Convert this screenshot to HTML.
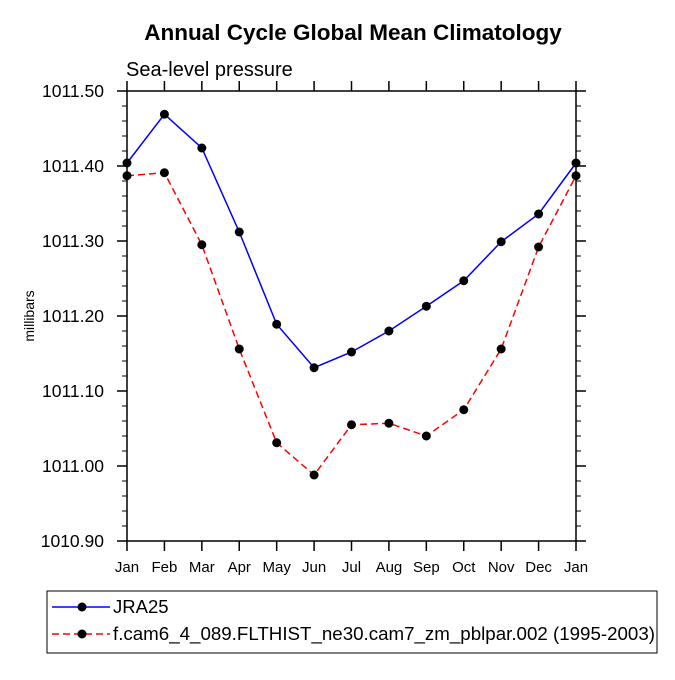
<!DOCTYPE html>
<html><head><meta charset="utf-8"><style>
body{margin:0;background:#fff;}
svg text{font-family:"Liberation Sans",Arial,sans-serif;}
</style></head><body>
<svg width="675" height="675" viewBox="0 0 675 675">
<rect width="675" height="675" fill="#fff"/>
<text x="353" y="40" text-anchor="middle" font-size="22.5" font-weight="bold">Annual Cycle Global Mean Climatology</text>
<text x="126" y="76" font-size="20">Sea-level pressure</text>
<text transform="translate(34,316) rotate(-90)" text-anchor="middle" font-size="14">millibars</text>
<g id="axes"></g>
<g id="series"></g>
<g id="legend">
<rect x="47" y="591" width="610" height="62" fill="none" stroke="#000" stroke-width="1"/>
<g>
<line x1="52" y1="607" x2="110" y2="607" stroke="#0000ff" stroke-width="1.5"/>
<circle cx="82" cy="607" r="4.5" fill="#000"/>
<text x="113" y="613" font-size="18.5">JRA25</text></g>
<g>
<line x1="52" y1="634" x2="110" y2="634" stroke="#ff0000" stroke-width="1.5" stroke-dasharray="7,4"/>
<circle cx="82" cy="634" r="4.5" fill="#000"/>
<text x="113" y="640" font-size="18.5" textLength="542" lengthAdjust="spacingAndGlyphs">f.cam6_4_089.FLTHIST_ne30.cam7_zm_pblpar.002 (1995-2003)</text></g>
</g>
</svg>
<script>
const months=["Jan","Feb","Mar","Apr","May","Jun","Jul","Aug","Sep","Oct","Nov","Dec","Jan"];
const jra25=[1011.404,1011.469,1011.424,1011.312,1011.189,1011.131,1011.152,1011.180,1011.213,1011.247,1011.299,1011.336,1011.404];
const model=[1011.387,1011.391,1011.295,1011.156,1011.031,1010.988,1011.055,1011.057,1011.040,1011.075,1011.156,1011.292,1011.387];
const yTicks=[1010.90,1011.00,1011.10,1011.20,1011.30,1011.40,1011.50];
const yTickLabels=["1010.90","1011.00","1011.10","1011.20","1011.30","1011.40","1011.50"];
const L=127,R=576,T=91,B=541,yMin=1010.9,yMax=1011.5;
const NS="http://www.w3.org/2000/svg";
function xs(i){return L+(R-L)*i/(months.length-1);}
function ys(v){return B-(v-yMin)/(yMax-yMin)*(B-T);}
function mk(tag,attrs,parent){const e=document.createElementNS(NS,tag);for(const k in attrs)e.setAttribute(k,attrs[k]);parent.appendChild(e);return e;}
const ax=document.getElementById('axes');
const frame=mk('rect',{x:L,y:T,width:R-L,height:B-T,fill:'none',stroke:'#000','stroke-width':1.5},ax);


months.forEach((m,i)=>{
 const x=xs(i);
 mk('line',{x1:x,y1:B,x2:x,y2:B+10,stroke:'#000','stroke-width':1.5},ax);
 mk('line',{x1:x,y1:T,x2:x,y2:T-10,stroke:'#000','stroke-width':1.5},ax);
 const t=mk('text',{x:x,y:B+31,'text-anchor':'middle','font-size':15},ax);
 t.textContent=m;
 
 
});
yTicks.forEach((v,i)=>{
 const y=ys(v);
 mk('line',{x1:L,y1:y,x2:L-10,y2:y,stroke:'#000','stroke-width':1.5},ax);
 mk('line',{x1:R,y1:y,x2:R+10,y2:y,stroke:'#000','stroke-width':1.5},ax);
 const t=mk('text',{x:L-23,y:y+6,'text-anchor':'end','font-size':17.5},ax);
 t.textContent=yTickLabels[i];
 
 
 if(i<yTicks.length-1){for(let k=1;k<5;k++){const yy=ys(v+0.02*k);
  mk('line',{x1:L,y1:yy,x2:L-5,y2:yy,stroke:'#000','stroke-width':1},ax);
  mk('line',{x1:R,y1:yy,x2:R+5,y2:yy,stroke:'#000','stroke-width':1},ax);}}
});
const sg=document.getElementById('series');
function draw(data,color,dash,name){
 const g=mk('g',{},sg);
 
 
 const pts=data.map((v,i)=>xs(i)+','+ys(v)).join(' ');
 const a={points:pts,fill:'none',stroke:color,'stroke-width':1.5};
 if(dash)a['stroke-dasharray']=dash;
 mk('polyline',a,g);
 data.forEach((v,i)=>{const c=mk('circle',{cx:xs(i),cy:ys(v),r:4.5,fill:'#000'},g);
  
  });
}
draw(model,'#ff0000','7,4','series-model');
draw(jra25,'#0000ff',null,'series-jra25');
</script>
</body></html>
